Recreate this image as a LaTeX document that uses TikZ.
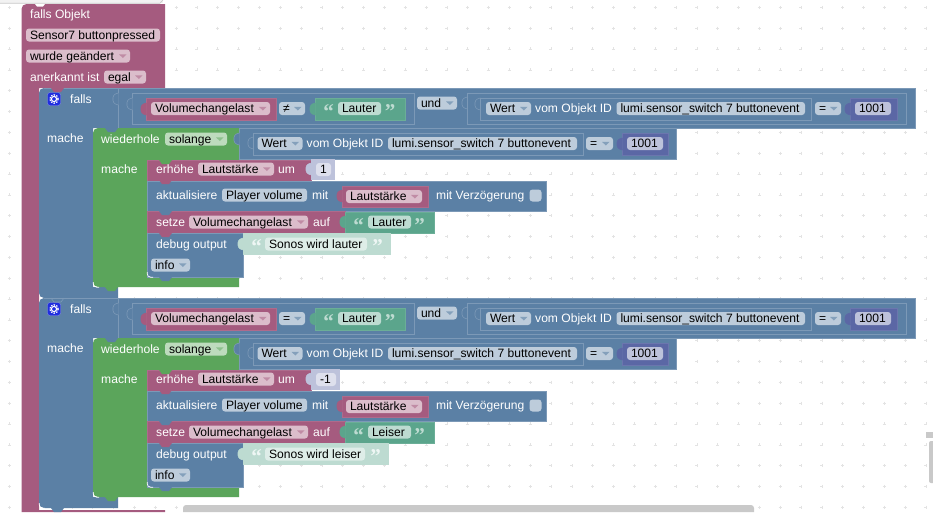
\documentclass[tikz,border=0pt]{standalone}
\usepackage{fontspec}
\setmainfont{Liberation Sans}
\newfontfamily\quotefont{Liberation Serif}
\usetikzlibrary{positioning}

\definecolor{cpurple}{HTML}{A55B7F}
\definecolor{cblue}{HTML}{5B80A5}
\definecolor{cgreen}{HTML}{5BA55B}
\definecolor{cteal}{HTML}{5BA58C}
\definecolor{cindigo}{HTML}{5B67A5}
\definecolor{fpurple}{HTML}{DBBDCB}
\definecolor{fblue}{HTML}{BDCCDB}
\definecolor{fgreen}{HTML}{BDDBBD}
\definecolor{fteal}{HTML}{BDDBD1}
\definecolor{findigo}{HTML}{BDC2DB}
\definecolor{flight}{HTML}{DEE0ED}
\definecolor{fpale}{HTML}{DEEDE8}
\definecolor{lblue}{HTML}{7C99B7}

\tikzset{
    blk/.style={rectangle,anchor=north west,inner sep=0pt,outer sep=0pt,line width=.6pt},
    pblk/.style={blk,fill=cpurple,draw=cpurple!90!white},
    bblk/.style={blk,fill=cblue,draw=lblue},
    tblk/.style={blk,fill=cteal,draw=cteal!90!white},
    iblk/.style={blk,fill=cindigo,draw=cindigo!90!white},
    pfield/.style={rectangle,rounded corners=3pt,fill=fpurple,text=black},
    bfield/.style={rectangle,rounded corners=3pt,fill=fblue,text=black},
    gfield/.style={rectangle,rounded corners=3pt,fill=fgreen,text=black},
    tfield/.style={rectangle,rounded corners=3pt,fill=fteal,text=black},
    ifield/.style={rectangle,rounded corners=3pt,fill=findigo,text=black},
    lfield/.style={rectangle,rounded corners=3pt,fill=flight,text=black},
    mfield/.style={rectangle,rounded corners=3pt,fill=fpale,text=black},
    txt/.style={anchor=west,inner sep=0pt,text=white,font=\fontsize{12.1}{14}\selectfont,
        text height=10pt,text depth=2pt},
    quot/.style={anchor=center,inner sep=0pt,font=\fontsize{21}{21}\selectfont\quotefont\bfseries},
    plusmark/.style={draw=black!11,line width=.45pt}
}

\newcommand{\blockbox}[6]{\node[#1,minimum width={(#5-#3)*1pt},minimum height={(#6-#4)*1pt}]
    (#2) at (#3,#4) {};}
\newcommand{\field}[6]{\pgfmathsetmacro{\fw}{#4-#3-8}
    \node[#1,anchor=west,inner xsep=4pt,inner ysep=.5pt,outer sep=0pt,font=\fontsize{12.1}{14}\selectfont,
        text height=10pt,text depth=2pt] (#2) at (#3,#5) {\makebox[\fw pt][l]{#6}};}
% field with the little arrow of a drop down
\newcommand{\ddfield}[7]{\field{#1}{#2}{#3}{#4}{#5}{#6}
    \fill[#7] ([xshift=-11pt,yshift=1.7pt]#2.east) -- ([xshift=-3.5pt,yshift=1.7pt]#2.east) -- ([xshift=-7.2pt,yshift=-2pt]#2.east) -- cycle;}
\newcommand{\notch}[3]{\fill[#1] (#2+12,#3) -- (#2+15,#3+4) -- (#2+22,#3+4) -- (#2+25,#3) -- cycle;}
\newcommand{\tabat}[4]{\filldraw[fill=#1,draw=#2,line width=.6pt,rounded corners=1pt]
    (#3+.5,#4-6) -- (#3-3,#4-5) -- (#3-5,#4-2.5) -- (#3-5,#4+2.5) -- (#3-3,#4+5) -- (#3+.5,#4+6);}
\newcommand{\whitecorner}[2]{\draw[white,line width=.7pt,rounded corners=3.5pt] (#1+.2,#2-5) -- (#1+.2,#2+.2) -- (#1+6,#2+.2);}
% the blocks "falls ... mache ..."
\newcommand{\fallsgroup}[8]{
    \fill[cblue] (39,200) [rounded corners=5pt] -- (39,88) -- (70,88) [sharp corners] -- (118,88)
        -- (118,128) -- (93,128) -- (93,287) -- (118,287) -- (118,298) [rounded corners=5pt]
        -- (39,298) -- (39,200) -- cycle;
    \draw[lblue,line width=.6pt] (118,88) -- (44,88);
    \blockbox{bblk}{#1und}{118}{88}{915}{128}
    \node[rectangle,rounded corners=2.5pt,fill=blue!65!cblue,draw=blue!30!fblue,minimum size=13pt,inner sep=0pt] (#1icon) at (54,99) {};
    \draw[white,line width=1.1pt] (#1icon.center) circle (2.6);
    \draw[white,line width=1.2pt,dash pattern=on 1.5pt off 1.2pt] (#1icon.center) circle (4.2);
    \node[txt] (#1falls) at (70,99) {falls};
    \node[txt] (#1mache) at (47,138) {mache};
    \tabat{cblue}{lblue}{118}{99}
    % condition in the first row
    \blockbox{bblk}{#1condl}{132}{93}{414}{124}
    \tabat{cblue}{lblue}{132}{104}
    \blockbox{pblk}{#1var}{146}{98}{276}{120}
    \tabat{cpurple}{cpurple}{146}{109}
    \ddfield{pfield}{#1varf}{151}{270}{108.5}{Volumechangelast}{cpurple!70!white}
    \ddfield{bfield}{#1op}{279}{305}{108.5}{#2}{cblue!75!white}
    \blockbox{tblk}{#1str}{315}{98}{405}{120}
    \tabat{cteal}{cteal}{315}{109}
    \node[quot,text=fteal] (#1qa) at (328.5,112) {“};
    \field{tfield}{#1strf}{338}{381}{108.5}{Lauter}
    \node[quot,text=fteal] (#1qb) at (390,112) {”};
    \ddfield{bfield}{#1and}{417}{457}{103}{und}{cblue!75!white}
    \tabat{cblue}{lblue}{467}{103}
    \blockbox{bblk}{#1condr}{467}{93}{906}{124}
    \tabat{cblue}{lblue}{480}{104}
    \blockbox{bblk}{#1wert}{480}{98}{811}{120}
    \ddfield{bfield}{#1wertf}{486}{531}{108.5}{Wert}{cblue!75!white}
    \node[txt] (#1vom) at (535,108.5) {vom Objekt ID};
    \field{bfield}{#1lumi}{616.5}{805}{108.5}{lumi.sensor\_switch 7 buttonevent}
    \ddfield{bfield}{#1eq}{815}{841}{108.5}{=}{cblue!75!white}
    \blockbox{iblk}{#1num}{850}{98}{897}{120}
    \tabat{cindigo}{cindigo}{850}{109}
    \field{ifield}{#1numf}{855}{891}{108.5}{1001}
    % loop
    \fill[cgreen] (93,200) [rounded corners=5pt] -- (93,128) -- (110,128) [sharp corners] -- (239,128)
        -- (239,160) -- (147,160) -- (147,277) -- (239,277) -- (239,287) [rounded corners=5pt]
        -- (93,287) -- (93,200) -- cycle;
    \notch{cblue}{93}{128}
    \node[txt] (#1wdh) at (101,139) {wiederhole};
    \ddfield{gfield}{#1sol}{165}{227}{139}{solange}{cgreen!70!white}
    \node[txt] (#1machb) at (101,169) {mache};
    \blockbox{bblk}{#1lcond}{239}{128}{676}{159}
    \tabat{cblue}{lblue}{239}{139}
    \tabat{cblue}{lblue}{253}{143}
    \blockbox{bblk}{#1lwert}{253}{133}{583}{155}
    \ddfield{bfield}{#1lwertf}{257.5}{302.5}{143.5}{Wert}{cblue!75!white}
    \node[txt] (#1lvom) at (306.5,143.5) {vom Objekt ID};
    \field{bfield}{#1llumi}{388}{577}{143.5}{lumi.sensor\_switch 7 buttonevent}
    \ddfield{bfield}{#1leq}{586}{613}{143.5}{=}{cblue!75!white}
    \blockbox{iblk}{#1lnum}{622}{133}{668}{155}
    \tabat{cindigo}{cindigo}{622}{144}
    \field{ifield}{#1lnumf}{627}{663}{143.5}{1001}
    % statements in the loop
    \blockbox{pblk}{#1inc}{147}{160}{311}{181}
    \notch{cgreen}{147}{160}
    \node[txt] (#1inct) at (156,169) {erhöhe};
    \ddfield{pfield}{#1incf}{198}{274}{169}{Lautstärke}{cpurple!70!white}
    \node[txt] (#1um) at (278,169) {um};
    \blockbox{blk,fill=findigo}{#1step}{311}{159}{#4}{180}
    \tabat{findigo}{findigo}{311}{169}
    \field{lfield}{#1stepf}{316}{#4-4}{169.5}{#3}
    \blockbox{bblk}{#1upd}{147}{181}{546}{211}
    \notch{cpurple}{147}{180}
    \node[txt] (#1updt) at (156,195) {aktualisiere};
    \field{bfield}{#1plr}{222}{307}{195}{Player volume}
    \node[txt] (#1mit) at (312,195) {mit};
    \blockbox{pblk}{#1vol}{342}{186}{428}{207}
    \tabat{cpurple}{cpurple}{342}{196}
    \ddfield{pfield}{#1volf}{346}{422}{196.5}{Lautstärke}{cpurple!70!white}
    \node[txt] (#1vzg) at (436,195) {mit Verzögerung};
    \node[bfield,minimum size=12pt,inner sep=0pt] (#1chk) at (535.5,195.5) {};
    \blockbox{pblk}{#1set}{147}{211}{345}{233}
    \notch{cblue}{147}{211}
    \node[txt] (#1sett) at (156,222) {setze};
    \ddfield{pfield}{#1setf}{189}{308}{222}{Volumechangelast}{cpurple!70!white}
    \node[txt] (#1auf) at (313,222) {auf};
    \blockbox{tblk}{#1setv}{345}{212}{434}{233}
    \tabat{cteal}{cteal}{345}{222}
    \node[quot,text=fteal] (#1qc) at (358.5,226) {“};
    \field{tfield}{#1setvf}{368}{411}{222}{#5}
    \node[quot,text=fteal] (#1qd) at (419.5,226) {”};
    \blockbox{bblk}{#1dbg}{147}{233}{243}{277}
    \notch{cpurple}{147}{233}
    \node[txt] (#1dbgt) at (156,244) {debug output};
    \ddfield{bfield}{#1info}{151}{190}{265}{info}{cblue!75!white}
    \blockbox{blk,fill=fteal}{#1msg}{243}{233}{#8}{255}
    \tabat{fteal}{fteal}{243}{244}
    \node[quot,text=white!75!fteal] (#1qe) at (256.5,247) {“};
    \field{mfield}{#1msgf}{265}{#7}{244}{#6}
    \node[quot,text=white!75!fteal] (#1qf) at (#8-13.5,247) {”};
    \notch{cblue}{147}{277}
    \notch{cgreen}{93}{287}
    \whitecorner{147}{277}
    \whitecorner{93}{287}
}

\begin{document}
\begin{tikzpicture}[x=1pt,y=-1pt]

    \useasboundingbox (0,0) rectangle (933,512);
    \fill[white] (0,0) rectangle (933,512);
    \foreach \i in {0,...,44}
        \foreach \j in {0,...,24}
            \draw[plusmark] (9.4+20.83*\i-1.5,7.3+20.83*\j) -- ++(3,0) (9.4+20.83*\i,7.3+20.83*\j-1.5) -- ++(0,3);

    % window edge
    \fill[black!5] (0,0) rectangle (163,3);
    \draw[black!22,line width=.6pt] (0,3.2) -- (160,3.2) -- (163,0);

    % outer block
    \fill[cpurple] (21.5,300) [rounded corners=5pt] -- (21.5,4) -- (60,4) [sharp corners] -- (165,4)
        -- (165,88) -- (39,88) -- (39,510) -- (165,510) -- (165,512) -- (21.5,512) -- cycle;
    \fill[white] (35,4) -- (37,6.5) -- (43,6.5) -- (45,4) -- cycle;
    \node[txt] (title) at (30,14) {falls Objekt};
    \field{pfield}{sensor}{26}{160}{35}{Sensor7 buttonpressed}
    \ddfield{pfield}{changed}{26}{130}{56}{wurde geändert}{cpurple!70!white}
    \node[txt] (ackt) at (30,77) {anerkannt ist};
    \ddfield{pfield}{ack}{104}{146}{77}{egal}{cpurple!70!white}

    \fallsgroup{a}{≠}{1}{335}{Lauter}{Sonos wird lauter}{367}{391}
    \notch{cpurple}{39}{88}
    \begin{scope}[yshift=-210pt]
        \fallsgroup{b}{=}{-1}{340}{Leiser}{Sonos wird leiser}{365}{389}
        \draw[lblue,line width=.6pt] (51,88) -- (54,92) -- (61,92) -- (64,88);
        \notch{cblue}{39}{298}
        \whitecorner{39}{298}
    \end{scope}

    % scroll bars
    \fill[black!21] (183,512) [rounded corners=3pt] -- (183,505) -- (754,505) [sharp corners] -- (754,512) -- cycle;
    \fill[black!21] (926,432) rectangle (933,438);
    \fill[black!21] (933,441) [rounded corners=2pt] -- (929,441) -- (929,483) [sharp corners] -- (933,483) -- cycle;

\end{tikzpicture}
\end{document}
